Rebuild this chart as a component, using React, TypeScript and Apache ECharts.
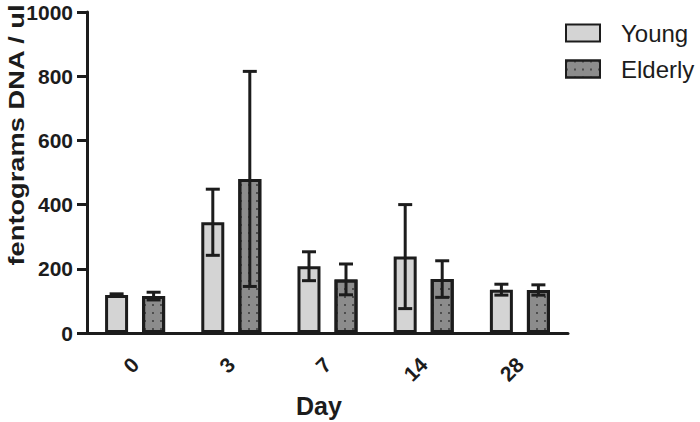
import React, { useEffect, useRef } from "react";
import * as echarts from "echarts";

const categories = ["0", "3", "7", "14", "28"];
const seriesNames = ["Young", "Elderly"];
const youngMean = [118, 345, 208, 238, 135];
const youngErr = [4, 103, 45, 162, 17];
const elderlyMean = [115, 480, 167, 168, 134];
const elderlyErr = [12, 335, 48, 57, 16];
const yTicks = { min: 0, max: 1000, interval: 200 };

const FONT = '"Liberation Sans", Arial, Helvetica, sans-serif';
const INK = "#1c1c1c";

function errorSeries(mean: number[], err: number[], offset: number) {
  return {
    type: "custom",
    silent: true,
    z: 10,
    data: mean.map((m, i) => [i, m, err[i]]),
    encode: { x: 0, y: 1 },
    renderItem: (params: any, api: any) => {
      const i = api.value(0);
      const m = api.value(1);
      const e = api.value(2);
      const top = api.coord([i, m + e]);
      const bot = api.coord([i, m - e]);
      const x = top[0] + offset;
      const cap = 7;
      const st = { stroke: INK, lineWidth: 3 };
      return {
        type: "group",
        children: [
          { type: "line", shape: { x1: x, y1: top[1], x2: x, y2: bot[1] }, style: st },
          { type: "line", shape: { x1: x - cap, y1: top[1], x2: x + cap, y2: top[1] }, style: st },
          { type: "line", shape: { x1: x - cap, y1: bot[1], x2: x + cap, y2: bot[1] }, style: st },
        ],
      };
    },
  };
}

export default function App() {
  const ref = useRef<HTMLDivElement>(null);
  useEffect(() => {
    if (!ref.current) return;
    const chart = echarts.init(ref.current, null, { renderer: "svg" });
    const dotDecal = {
      symbol: "rect",
      symbolSize: 0.8,
      dashArrayX: [2, 5.3],
      dashArrayY: [2, 6],
      color: "#222222",
    };
    chart.setOption({
      animation: false,
      backgroundColor: "#ffffff",
      grid: { left: 87, right: 132, top: 12, bottom: 89, containLabel: false },
      legend: {
        orient: "vertical",
        left: 565,
        top: 21,
        padding: 0,
        itemWidth: 34,
        itemHeight: 17,
        itemGap: 12,
        icon: "rect",
        data: seriesNames,
        textStyle: { fontFamily: FONT, fontSize: 24, color: INK, lineHeight: 20, padding: [0, 0, 0, 16] },
      },
      xAxis: {
        type: "category",
        data: categories,
        axisLine: { lineStyle: { color: INK, width: 3 } },
        axisTick: { alignWithLabel: true, length: 10, lineStyle: { color: INK, width: 3 } },
        axisLabel: { rotate: 45, margin: 28, fontFamily: FONT, fontSize: 21, fontWeight: "bold", color: INK },
        splitLine: { show: false },
      },
      yAxis: {
        type: "value",
        min: yTicks.min,
        max: yTicks.max,
        interval: yTicks.interval,
        axisLine: { show: true, lineStyle: { color: INK, width: 3 } },
        axisTick: { show: true, length: 10, lineStyle: { color: INK, width: 3 } },
        axisLabel: {
          margin: 14,
          fontFamily: FONT,
          fontSize: 21,
          fontWeight: "bold",
          color: INK,
          formatter: (v: number) => String(v),
        },
        splitLine: { show: false },
      },
      graphic: [
        {
          type: "text",
          x: 16,
          y: 135,
          rotation: Math.PI / 2,
          scaleX: 1.24,
          style: {
            text: "fentograms DNA / ul",
            font: `bold 22px ${FONT}`,
            fill: INK,
            align: "center",
            verticalAlign: "middle",
          },
        },
        {
          type: "text",
          x: 319,
          y: 406,
          style: {
            text: "Day",
            font: `bold 25px ${FONT}`,
            fill: INK,
            align: "center",
            verticalAlign: "middle",
          },
        },
      ],
      series: [
        {
          name: "Young",
          type: "bar",
          data: youngMean,
          barWidth: 23,
          barGap: "61%",
          itemStyle: { color: "#d4d4d4", borderColor: INK, borderWidth: 3 },
        },
        {
          name: "Elderly",
          type: "bar",
          data: elderlyMean,
          barWidth: 23,
          barGap: "61%",
          itemStyle: { color: "#8c8c8c", borderColor: INK, borderWidth: 3, decal: dotDecal },
        },
        errorSeries(youngMean, youngErr, -18.5),
        errorSeries(elderlyMean, elderlyErr, 18.5),
      ],
    });
    return () => chart.dispose();
  }, []);
  return (
    <div
      ref={ref}
      style={{ position: "absolute", left: 0, top: 0, width: 700, height: 422 }}
    />
  );
}
